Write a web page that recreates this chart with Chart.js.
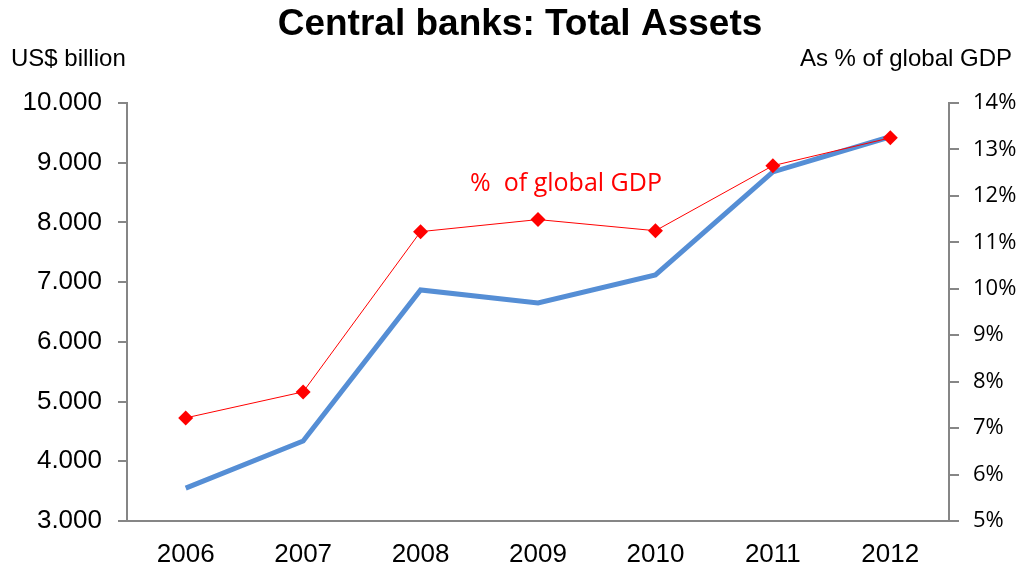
<!DOCTYPE html>
<html>
<head>
<meta charset="utf-8">
<script src="https://cdn.jsdelivr.net/npm/chart.js@4/dist/chart.umd.min.js"></script>
<style>
  html, body { margin: 0; padding: 0; background: #fff; }
  #wrap { width: 1023px; height: 567px; position: relative; }
</style>
</head>
<body>
<div id="wrap"><canvas id="c" width="1023" height="567"></canvas></div>
<script>
const years = ['2006', '2007', '2008', '2009', '2010', '2011', '2012'];
const totalAssets = [3550, 4340, 6870, 6650, 7120, 8845, 9435];   // US$ billion
const pctOfGdp = [7.22, 7.78, 11.23, 11.49, 11.25, 12.65, 13.25]; // % of global GDP

const titleText = 'Central banks: Total Assets';
const leftAxisText = 'US$ billion';
const rightAxisText = 'As % of global GDP';
const seriesNote = '%  of global GDP';

const fmtThousands = v => String(Math.round(v)).replace(/\B(?=(\d{3})+(?!\d))/g, '.');

const headerText = {
  id: 'headerText',
  afterDraw(chart) {
    const { ctx } = chart;
    ctx.save();
    ctx.fillStyle = '#000';
    ctx.textBaseline = 'middle';
    ctx.font = 'bold 37px "Liberation Sans", Arial, sans-serif';
    ctx.textAlign = 'center';
    ctx.fillText(titleText, 520, 25);
    ctx.font = '24px "Liberation Sans", Arial, sans-serif';
    ctx.textAlign = 'left';
    ctx.fillText(leftAxisText, 11, 59);
    ctx.textAlign = 'right';
    ctx.fillText(rightAxisText, 1012, 59);
    ctx.fillStyle = '#ff0000';
    ctx.font = '25px "Open Sans", "Noto Sans", sans-serif';
    ctx.textAlign = 'center';
    ctx.fillText(seriesNote, 566, 184);
    ctx.restore();
  }
};

new Chart(document.getElementById('c'), {
  type: 'line',
  data: {
    labels: years,
    datasets: [
      {
        label: 'Total assets',
        data: totalAssets,
        yAxisID: 'y',
        borderColor: '#558ED5',
        borderWidth: 5,
        pointRadius: 0,
        tension: 0,
        order: 2
      },
      {
        label: '% of global GDP',
        data: pctOfGdp,
        yAxisID: 'y1',
        borderColor: '#ff0000',
        borderWidth: 1,
        pointStyle: 'rectRot',
        pointRadius: 7.5,
        pointBackgroundColor: '#ff0000',
        pointBorderColor: '#ff0000',
        pointBorderWidth: 0,
        tension: 0,
        order: 1
      }
    ]
  },
  options: {
    responsive: false,
    animation: false,
    layout: { padding: { top: 103, left: 0, right: 0, bottom: 0 } },
    plugins: {
      legend: { display: false },
      title: { display: false },
      tooltip: { enabled: false }
    },
    scales: {
      x: {
        offset: true,
        grid: { display: false, drawTicks: false },
        border: { color: '#868686', width: 2 },
        ticks: {
          color: '#000',
          font: { family: '"Liberation Sans", Arial, sans-serif', size: 26 },
          padding: 18
        },
        afterFit(s) { s.height = 46; }
      },
      y: {
        position: 'left',
        min: 3000,
        max: 10000,
        grid: { drawOnChartArea: false, tickLength: 9, color: '#868686', lineWidth: 2 },
        border: { color: '#868686', width: 2 },
        ticks: {
          stepSize: 1000,
          color: '#000',
          font: { family: '"Liberation Sans", Arial, sans-serif', size: 26 },
          padding: 16,
          callback: v => fmtThousands(v)
        },
        afterFit(s) { s.width = 127; }
      },
      y1: {
        position: 'right',
        min: 5,
        max: 14,
        grid: { drawOnChartArea: false, tickLength: 10, color: '#868686', lineWidth: 2 },
        border: { color: '#868686', width: 2 },
        ticks: {
          stepSize: 1,
          color: '#000',
          font: { family: '"Open Sans", "Noto Sans", sans-serif', size: 22 },
          padding: 14,
          callback: v => v + '%'
        },
        afterFit(s) { s.width = 74; }
      }
    }
  },
  plugins: [headerText]
});
</script>
</body>
</html>
